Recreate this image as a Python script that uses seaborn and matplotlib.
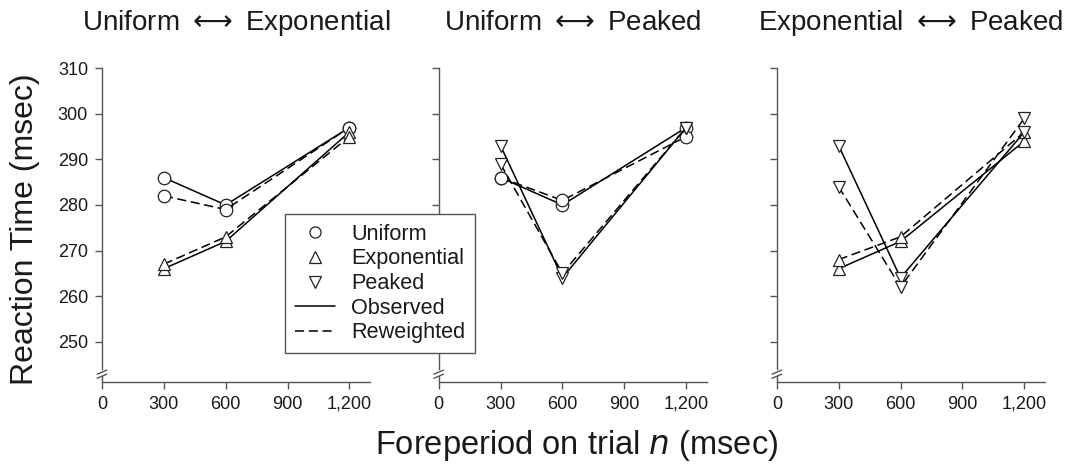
import numpy as np
import pandas as pd
import matplotlib
matplotlib.use("Agg")
import matplotlib.pyplot as plt
from matplotlib.lines import Line2D
from matplotlib.ticker import FuncFormatter
import seaborn as sns

sns.set_style("ticks")
plt.rcParams["font.family"] = ["Liberation Sans", "DejaVu Sans"]
plt.rcParams["mathtext.fontset"] = "dejavusans"

# data
foreperiods = [300, 600, 1200]
arrow = r" $\longleftrightarrow$ "
panels = ["Uniform" + arrow + "Exponential", "Uniform" + arrow + "Peaked",
          "Exponential" + arrow + "Peaked"]
panel_dists = [["Uniform", "Exponential"], ["Uniform", "Peaked"], ["Exponential", "Peaked"]]

# panel 1
ue_uniform_obs = [286, 280, 297]
ue_uniform_rew = [282, 279, 297]
ue_expo_obs = [266, 272, 296]
ue_expo_rew = [267, 273, 295]
# panel 2
up_uniform_obs = [286, 280, 297]
up_uniform_rew = [286, 281, 295]
up_peaked_obs = [293, 264, 297]
up_peaked_rew = [289, 265, 297]
# panel 3
ep_expo_obs = [266, 272, 294]
ep_expo_rew = [268, 273, 296]
ep_peaked_obs = [293, 264, 296]
ep_peaked_rew = [284, 262, 299]

values = {
    (0, "Uniform", "Observed"): ue_uniform_obs,
    (0, "Uniform", "Reweighted"): ue_uniform_rew,
    (0, "Exponential", "Observed"): ue_expo_obs,
    (0, "Exponential", "Reweighted"): ue_expo_rew,
    (1, "Uniform", "Observed"): up_uniform_obs,
    (1, "Uniform", "Reweighted"): up_uniform_rew,
    (1, "Peaked", "Observed"): up_peaked_obs,
    (1, "Peaked", "Reweighted"): up_peaked_rew,
    (2, "Exponential", "Observed"): ep_expo_obs,
    (2, "Exponential", "Reweighted"): ep_expo_rew,
    (2, "Peaked", "Observed"): ep_peaked_obs,
    (2, "Peaked", "Reweighted"): ep_peaked_rew,
}

rows = []
for (p, d, t), vals in values.items():
    for fp, v in zip(foreperiods, vals):
        rows.append({"panel": p, "dist": d, "type": t, "fp": fp, "rt": v})
df = pd.DataFrame(rows)

markers = {"Uniform": "o", "Exponential": "^", "Peaked": "v"}
linestyles = {"Observed": "-", "Reweighted": (0, (6, 3))}
spine_col = "#555555"
text_col = "#1a1a1a"

fig = plt.figure(figsize=(10.7, 4.68), dpi=100)
lefts = [0.0953, 0.410, 0.726]
ymin, ymax = 241.2, 310

for i, left in enumerate(lefts):
    ax = fig.add_axes([left, 0.1844, 0.2505, 0.6697])
    sub = df[df["panel"] == i]
    for d in panel_dists[i]:
        for t in ["Observed", "Reweighted"]:
            s = sub[(sub["dist"] == d) & (sub["type"] == t)]
            sns.lineplot(data=s, x="fp", y="rt", ax=ax, color="black",
                         linewidth=1.1, linestyle=linestyles[t],
                         marker=markers[d], markersize=9,
                         markerfacecolor="white", markeredgecolor="#222222",
                         markeredgewidth=0.9, errorbar=None)
    ax.set_xlim(0, 1300)
    ax.set_ylim(ymin, ymax)
    ax.set_xticks([0, 300, 600, 900, 1200])
    ax.xaxis.set_major_formatter(FuncFormatter(lambda v, p: f"{int(v):,}"))
    ax.set_yticks([250, 260, 270, 280, 290, 300, 310])
    if i == 0:
        ax.set_yticklabels([str(v) for v in [250, 260, 270, 280, 290, 300, 310]])
    else:
        ax.set_yticklabels([])
    ax.set_xlabel("")
    ax.set_ylabel("")
    sns.despine(ax=ax)
    for sp in ["left", "bottom"]:
        ax.spines[sp].set_color(spine_col)
        ax.spines[sp].set_linewidth(1.0)
    ax.spines["left"].set_bounds(243.9, 310)
    ax.tick_params(axis="both", colors=spine_col, length=5, width=1.0,
                   labelsize=13, labelcolor=text_col, pad=5)
    # axis break
    tr = ax.get_yaxis_transform()
    ax.plot([0, 0], [ymin, 242.5], transform=tr, color=spine_col, lw=1.0, clip_on=False)
    for yb in [242.4, 243.3]:
        ax.plot([-0.018, 0.018], [yb - 0.45, yb + 0.45], transform=tr,
                color=spine_col, lw=1.0, clip_on=False)
    bb = ax.get_position()
    fig.text((bb.x0 + bb.x1) / 2, 0.935, panels[i], ha="center", va="baseline",
             fontsize=20, color=text_col)

fig.text(0.023, 0.511, "Reaction Time (msec)", rotation=90, ha="center", va="center",
         fontsize=23, color=text_col)
fig.text(0.539, 0.048, "Foreperiod on trial $n$ (msec)", ha="center", va="center",
         fontsize=23.5, color=text_col)

handles = [
    Line2D([], [], linestyle="none", marker="o", markersize=8, markerfacecolor="white",
           markeredgecolor="#222222", markeredgewidth=0.9),
    Line2D([], [], linestyle="none", marker="^", markersize=8, markerfacecolor="white",
           markeredgecolor="#222222", markeredgewidth=0.9),
    Line2D([], [], linestyle="none", marker="v", markersize=8, markerfacecolor="white",
           markeredgecolor="#222222", markeredgewidth=0.9),
    Line2D([], [], color="black", lw=1.1, linestyle="-"),
    Line2D([], [], color="black", lw=1.1, linestyle=(0, (6, 3))),
]
labels = ["Uniform", "Exponential", "Peaked", "Observed", "Reweighted"]
leg = fig.legend(handles, labels, loc="upper left", bbox_to_anchor=(0.2664, 0.5427),
                 borderaxespad=0, fontsize=15.6, frameon=True, fancybox=False,
                 handlelength=1.85, handletextpad=0.75, labelspacing=0.17,
                 borderpad=0.45)
for txt in leg.get_texts():
    txt.set_color(text_col)
leg.get_frame().set_edgecolor(spine_col)
leg.get_frame().set_linewidth(1.0)
leg.get_frame().set_facecolor("white")
leg.get_frame().set_alpha(1.0)

fig.savefig("out.png", dpi=100)
